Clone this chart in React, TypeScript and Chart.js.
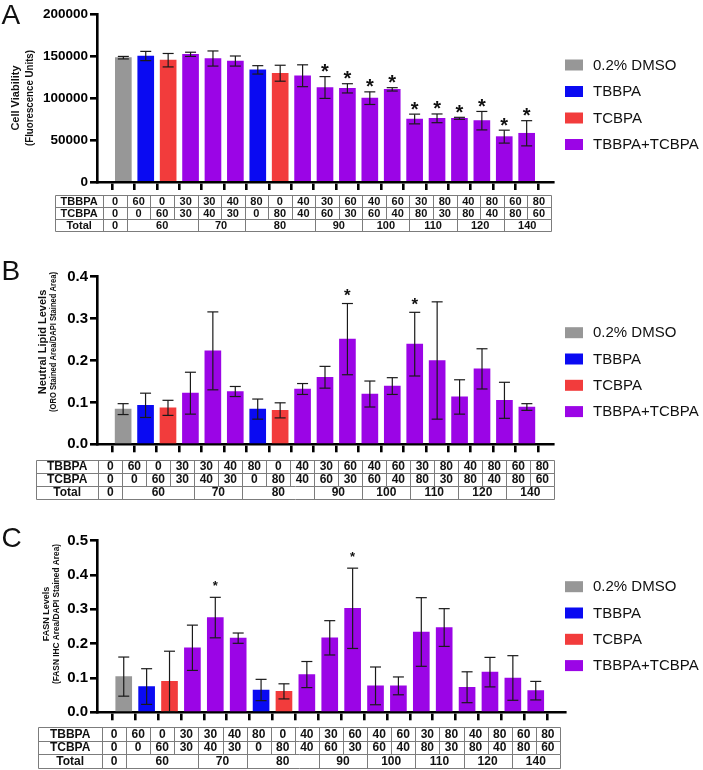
import React, { useEffect, useRef } from "react";
import { Chart, registerables } from "chart.js";
Chart.register(...registerables);

// ---------- data ----------
const TBBPA = [0, 60, 0, 30, 30, 40, 80, 0, 40, 30, 60, 40, 60, 30, 80, 40, 80, 60, 80];
const TCBPA = [0, 0, 60, 30, 40, 30, 0, 80, 40, 60, 30, 60, 40, 80, 30, 80, 40, 80, 60];
const ROW_LABELS = ["TBBPA", "TCBPA", "Total"];
const LEGEND_LABELS = ["0.2% DMSO", "TBBPA", "TCBPA", "TBBPA+TCBPA"];

const VIABILITY_MEAN = [148000, 150000, 145000, 152000, 147000, 144000, 133500, 129500, 126500, 112500, 111500, 99800, 110300, 75000, 75800, 75800, 73000, 54000, 58000];
const VIABILITY_SD = [1500, 5500, 8000, 2500, 9000, 6000, 5000, 9500, 13000, 13000, 5500, 7500, 2000, 5800, 5200, 1200, 11000, 7700, 15000];
const VIABILITY_SIG = [9, 10, 11, 12, 13, 14, 15, 16, 17, 18];
const VIABILITY_TICKS = [0, 50000, 100000, 150000, 200000];

const LIPID_MEAN = [0.084, 0.093, 0.087, 0.122, 0.223, 0.126, 0.084, 0.081, 0.132, 0.160, 0.251, 0.120, 0.139, 0.239, 0.200, 0.113, 0.180, 0.105, 0.089];
const LIPID_SD = [0.013, 0.029, 0.018, 0.050, 0.093, 0.012, 0.024, 0.018, 0.013, 0.026, 0.085, 0.031, 0.020, 0.076, 0.140, 0.041, 0.048, 0.043, 0.008];
const LIPID_SIG = [10, 13];
const LIPID_TICKS = [0, 0.1, 0.2, 0.3, 0.4];

const FASN_MEAN = [0.104, 0.075, 0.090, 0.188, 0.276, 0.216, 0.065, 0.061, 0.110, 0.217, 0.303, 0.077, 0.077, 0.234, 0.247, 0.073, 0.117, 0.100, 0.063];
const FASN_SD = [0.057, 0.052, 0.088, 0.066, 0.059, 0.015, 0.031, 0.022, 0.038, 0.050, 0.117, 0.055, 0.026, 0.100, 0.055, 0.045, 0.043, 0.065, 0.027];
const FASN_SIG = [4, 10];
const FASN_TICKS = [0, 0.1, 0.2, 0.3, 0.4, 0.5];

// ---------- styles ----------
const W = 703;
const FONT = "Arial, 'Liberation Sans', Helvetica, sans-serif";
const COLORS = ["#979797", "#0A0AF2", "#F23C3C", "#9B05E6"];

function groupIndex(i: number) {
  if (TBBPA[i] === 0 && TCBPA[i] === 0) return 0;
  if (TCBPA[i] === 0) return 1;
  if (TBBPA[i] === 0) return 2;
  return 3;
}

type TitleLine = { text: string; x: number; size: number; maxW: number };
type Spec = {
  letter: string; letterY: number;
  top: number; height: number;
  areaTop: number; areaBottom: number; areaLeft: number; areaRight: number;
  xMin: number; xMax: number;
  mean: number[]; sd: number[]; sig: number[];
  yTicks: number[]; decimals: number; tickFont: number;
  titles: TitleLine[]; titleCenter: number;
  legendTop: number; legendStep: number;
  table: { left: number; dataLeft: number; colW: number; top: number; rowH: number; font: number };
  starSize: number; starGap: number;
};

const SPECS: Spec[] = [
  {
    letter: "A", letterY: 24, top: 0, height: 245,
    areaTop: 14, areaBottom: 182, areaLeft: 97, areaRight: 553, xMin: -0.64, xMax: 18.64,
    mean: VIABILITY_MEAN, sd: VIABILITY_SD, sig: VIABILITY_SIG,
    yTicks: VIABILITY_TICKS, decimals: 0, tickFont: 13.5,
    titles: [
      { text: "Cell Viability", x: 15.5, size: 11, maxW: 100 },
      { text: "(Fluorescence Units)", x: 29.5, size: 11, maxW: 96 },
    ],
    titleCenter: 98, legendTop: 65, legendStep: 26.5,
    table: { left: 55, dataLeft: 103.3, colW: 23.55, top: 195, rowH: 12, font: 11 },
    starSize: 20, starGap: 9.5,
  },
  {
    letter: "B", letterY: 280, top: 245, height: 270,
    areaTop: 276.7, areaBottom: 444.3, areaLeft: 97, areaRight: 553, xMin: -0.63, xMax: 18.63,
    mean: LIPID_MEAN, sd: LIPID_SD, sig: LIPID_SIG,
    yTicks: LIPID_TICKS, decimals: 1, tickFont: 15,
    titles: [
      { text: "Neutral Lipid Levels", x: 42.7, size: 11, maxW: 108 },
      { text: "(ORO Stained Area/DAPI Stained Area)", x: 53.5, size: 9.5, maxW: 140 },
    ],
    titleCenter: 342, legendTop: 332.7, legendStep: 26.3,
    table: { left: 36, dataLeft: 98.3, colW: 24.0, top: 460, rowH: 13, font: 12 },
    starSize: 17, starGap: 12,
  },
  {
    letter: "C", letterY: 547, top: 515, height: 255,
    areaTop: 540.7, areaBottom: 712.3, areaLeft: 97, areaRight: 565, xMin: -0.63, xMax: 18.74,
    mean: FASN_MEAN, sd: FASN_SD, sig: FASN_SIG,
    yTicks: FASN_TICKS, decimals: 1, tickFont: 15,
    titles: [
      { text: "FASN Levels", x: 46.5, size: 9, maxW: 60 },
      { text: "(FASN IHC Area/DAPI Stained Area)", x: 56.5, size: 9, maxW: 140 },
    ],
    titleCenter: 614, legendTop: 586.7, legendStep: 26.3,
    table: { left: 38.3, dataLeft: 102, colW: 24.1, top: 727, rowH: 13.7, font: 12 },
    starSize: 13, starGap: 14,
  },
];

function totalsRuns() {
  const totals = TBBPA.map((v, i) => v + TCBPA[i]);
  const runs: { value: number; start: number; end: number }[] = [];
  totals.forEach((t, i) => {
    const last = runs[runs.length - 1];
    if (last && last.value === t) last.end = i;
    else runs.push({ value: t, start: i, end: i });
  });
  return runs;
}

function line(ctx: CanvasRenderingContext2D, x1: number, y1: number, x2: number, y2: number) {
  ctx.beginPath();
  ctx.moveTo(x1, y1);
  ctx.lineTo(x2, y2);
  ctx.stroke();
}

function makeOverlay(s: Spec) {
  const dy = s.top;
  return {
    id: "overlay" + s.letter,
    afterDatasetsDraw(chart: any) {
      const ctx: CanvasRenderingContext2D = chart.ctx;
      const meta = chart.getDatasetMeta(0);
      const ys = chart.scales.y;
      ctx.save();
      ctx.strokeStyle = "#1a1a1a";
      ctx.lineWidth = 1.2;
      meta.data.forEach((bar: any, i: number) => {
        const x = bar.x;
        const top = ys.getPixelForValue(s.mean[i] + s.sd[i]);
        const bot = Math.min(ys.getPixelForValue(s.mean[i] - s.sd[i]), chart.chartArea.bottom);
        line(ctx, x, top, x, bot);
        line(ctx, x - 5.5, top, x + 5.5, top);
        line(ctx, x - 5.5, bot, x + 5.5, bot);
      });
      // significance stars
      ctx.fillStyle = "#111";
      ctx.font = `bold ${s.starSize}px ${FONT}`;
      ctx.textAlign = "center";
      ctx.textBaseline = "alphabetic";
      s.sig.forEach((i) => {
        const bar = meta.data[i];
        const top = ys.getPixelForValue(s.mean[i] + s.sd[i]);
        const cy = top - s.starGap;
        ctx.fillText("*", bar.x, cy + s.starSize * 0.55);
      });
      ctx.restore();
    },
    afterDraw(chart: any) {
      const ctx: CanvasRenderingContext2D = chart.ctx;
      ctx.save();
      // panel letter
      ctx.fillStyle = "#111";
      ctx.font = `28px ${FONT}`;
      ctx.textAlign = "left";
      ctx.textBaseline = "alphabetic";
      ctx.fillText(s.letter, 1.5, s.letterY - dy);
      // y title
      s.titles.forEach((t) => {
        ctx.save();
        ctx.translate(t.x, s.titleCenter - dy);
        ctx.rotate(-Math.PI / 2);
        ctx.font = `bold ${t.size}px ${FONT}`;
        ctx.textAlign = "center";
        ctx.textBaseline = "middle";
        ctx.fillText(t.text, 0, 0, t.maxW);
        ctx.restore();
      });
      // legend
      LEGEND_LABELS.forEach((lab, k) => {
        const cy = s.legendTop + k * s.legendStep - dy;
        ctx.fillStyle = COLORS[k];
        ctx.fillRect(565, cy - 5.5, 18, 11);
        ctx.fillStyle = "#111";
        ctx.font = `15px ${FONT}`;
        ctx.textAlign = "left";
        ctx.textBaseline = "middle";
        ctx.fillText(lab, 593, cy + 0.5);
      });
      // table
      const t = s.table;
      const n = TBBPA.length;
      const right = t.dataLeft + n * t.colW;
      const ty = t.top - dy;
      const px = (v: number) => Math.round(v) + 0.5;
      ctx.strokeStyle = "#7c7c7c";
      ctx.lineWidth = 1;
      for (let r = 0; r <= 3; r++) line(ctx, px(t.left), px(ty + r * t.rowH), px(right), px(ty + r * t.rowH));
      line(ctx, px(t.left), px(ty), px(t.left), px(ty + 3 * t.rowH));
      for (let c = 0; c <= n; c++) {
        const x = px(t.dataLeft + c * t.colW);
        line(ctx, x, px(ty), x, px(ty + 2 * t.rowH));
      }
      const runs = totalsRuns();
      const bounds = new Set<number>([0, n]);
      runs.forEach((r) => { bounds.add(r.start); bounds.add(r.end + 1); });
      bounds.forEach((c) => {
        const x = px(t.dataLeft + c * t.colW);
        line(ctx, x, px(ty + 2 * t.rowH), x, px(ty + 3 * t.rowH));
      });
      ctx.fillStyle = "#111";
      ctx.font = `bold ${t.font}px ${FONT}`;
      ctx.textAlign = "center";
      ctx.textBaseline = "middle";
      const labelX = (t.left + t.dataLeft) / 2;
      ROW_LABELS.forEach((lab, r) => ctx.fillText(lab, labelX, ty + (r + 0.5) * t.rowH + 0.5));
      [TBBPA, TCBPA].forEach((arr, r) => {
        arr.forEach((v, c) => ctx.fillText(String(v), t.dataLeft + (c + 0.5) * t.colW, ty + (r + 0.5) * t.rowH + 0.5));
      });
      runs.forEach((rn) => {
        const cx = t.dataLeft + ((rn.start + rn.end + 1) / 2) * t.colW;
        ctx.fillText(String(rn.value), cx, ty + 2.5 * t.rowH + 0.5);
      });
      ctx.restore();
    },
  };
}

function Panel({ spec }: { spec: Spec }) {
  const ref = useRef<HTMLCanvasElement>(null);
  useEffect(() => {
    const s = spec;
    const X_AXIS_H = 10;
    const localTop = s.areaTop - s.top;
    const localBottom = s.areaBottom - s.top;
    const indices = s.mean.map((_, i) => i);
    const chart = new Chart(ref.current as HTMLCanvasElement, {
      type: "bar",
      data: {
        datasets: [
          {
            data: s.mean.map((v, i) => ({ x: i, y: v })),
            backgroundColor: s.mean.map((_, i) => COLORS[groupIndex(i)]),
            borderWidth: 0,
            barThickness: 16,
          } as any,
        ],
      },
      options: {
        responsive: false,
        animation: false,
        devicePixelRatio: 1,
        events: [],
        layout: {
          padding: { top: localTop, left: 0, right: W - s.areaRight, bottom: s.height - localBottom - X_AXIS_H },
        },
        plugins: { legend: { display: false }, tooltip: { enabled: false }, title: { display: false } },
        scales: {
          x: {
            type: "linear",
            bounds: "data",
            min: s.xMin,
            max: s.xMax,
            afterBuildTicks: (sc: any) => { sc.ticks = indices.map((v) => ({ value: v })); },
            afterFit: (sc: any) => { sc.height = X_AXIS_H; },
            ticks: { display: false },
            grid: { drawOnChartArea: false, drawTicks: true, tickLength: 8, color: "#000", lineWidth: 2.6 },
            border: { display: true, color: "#000", width: 2.6 },
          },
          y: {
            min: 0,
            max: s.yTicks[s.yTicks.length - 1],
            afterBuildTicks: (sc: any) => { sc.ticks = s.yTicks.map((v) => ({ value: v })); },
            afterFit: (sc: any) => { sc.width = s.areaLeft; },
            ticks: {
              callback: (v: any) => Number(v).toFixed(s.decimals),
              color: "#000",
              padding: 2,
              font: { family: FONT, size: s.tickFont, weight: "bold" },
            },
            grid: { drawOnChartArea: false, drawTicks: true, tickLength: 7, color: "#000", lineWidth: 2.6 },
            border: { display: true, color: "#000", width: 2.6 },
          },
        },
      } as any,
      plugins: [makeOverlay(s)],
    });
    return () => chart.destroy();
  }, [spec]);
  return (
    <canvas
      ref={ref}
      width={W}
      height={spec.height}
      style={{ position: "absolute", left: 0, top: spec.top, display: "block" }}
    />
  );
}

export default function App() {
  return (
    <div style={{ position: "absolute", left: 0, top: 0, width: W, height: 770, background: "#fff", overflow: "hidden" }}>
      {SPECS.map((s) => (
        <Panel key={s.letter} spec={s} />
      ))}
    </div>
  );
}
